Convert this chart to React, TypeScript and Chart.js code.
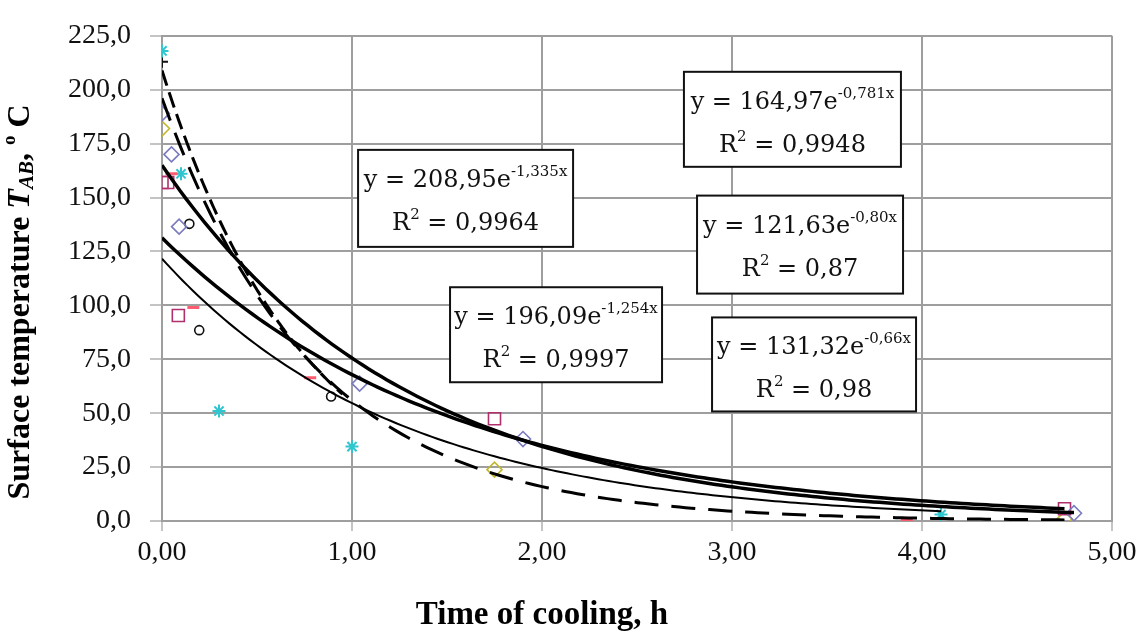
import { useEffect, useRef } from "react";
import { Chart, registerables } from "chart.js";

Chart.register(...registerables);

// ---------- data ----------
const xTickValues = [0, 1, 2, 3, 4, 5];
const yTickValues = [0, 25, 50, 75, 100, 125, 150, 175, 200, 225];

const diamondX = [0, 0.05, 0.09, 1.04, 1.9, 4.8];
const diamondY = [189, 170, 136.5, 63.7, 38, 3.6];
const squareX = [0, 0.03, 0.086, 1.75, 4.75];
const squareY = [157, 157, 95.3, 47.4, 5.7];
const dashX = [0.05, 0.165, 0.78, 3.92];
const dashY = [161, 99, 66.4, 0.5];
const yellowX = [0, 1.75, 4.75];
const yellowY = [182, 23.8, 1];
const cyanX = [0, 0.1, 0.3, 1.0, 4.1];
const cyanY = [218, 161, 51, 34.5, 3];
const circleX = [0.144, 0.196, 0.89];
const circleY = [137.8, 88.5, 57.7];
const plusX = [0];
const plusY = [213];

// trend lines y = a * e^(b x), as printed in the boxes
const fitA = [208.95, 164.97, 121.63, 196.09, 131.32];
const fitB = [-1.335, -0.781, -0.8, -1.254, -0.66];
const fitAText = ["208,95", "164,97", "121,63", "196,09", "131,32"];
const fitBText = ["-1,335", "-0,781", "-0,80", "-1,254", "-0,66"];
const fitR2 = ["0,9964", "0,9948", "0,87", "0,9997", "0,98"];
const fitXEnd = [0.95, 4.8, 4.1, 4.75, 4.75];

const xTitle = "Time of cooling, h";

// ---------- styles / layout ----------
const fitStyles = [
  { width: 3, dash: [16, 7] },
  { width: 3.5, dash: [] as number[] },
  { width: 2, dash: [] as number[] },
  { width: 3, dash: [24, 13] },
  { width: 3.5, dash: [] as number[] },
];
// box top-left in data units, size in px
const boxPos = [
  { x: 1.032, y: 172.1, w: 215, h: 97 },
  { x: 2.747, y: 208.3, w: 217, h: 95 },
  { x: 2.816, y: 150.9, w: 206, h: 98 },
  { x: 1.516, y: 108.4, w: 212, h: 95 },
  { x: 2.895, y: 94.4, w: 204, h: 94 },
];

const GRID = "#9e9e9e";
const SERIF = '"Liberation Serif", "Times New Roman", serif';
const BOXFONT = '"DejaVu Serif", serif';

const pts = (xs: number[], ys: number[]) => xs.map((x, i) => ({ x, y: ys[i] }));
const fmt = (v: number, d: number) => Number(v).toFixed(d).replace(".", ",");

const boxesPlugin = {
  id: "eqBoxes",
  afterDatasetsDraw(chart: any) {
    const { ctx } = chart;
    const xs = chart.scales.x;
    const ys = chart.scales.y;
    ctx.save();
    boxPos.forEach((b, i) => {
      const px = xs.getPixelForValue(b.x);
      const py = ys.getPixelForValue(b.y);
      ctx.fillStyle = "#fff";
      ctx.fillRect(px, py, b.w, b.h);
      ctx.strokeStyle = "#111";
      ctx.lineWidth = 2;
      ctx.setLineDash([]);
      ctx.strokeRect(px, py, b.w, b.h);
      ctx.fillStyle = "#111";
      ctx.textBaseline = "alphabetic";
      ctx.textAlign = "left";
      // line 1
      const main = `y = ${fitAText[i]}e`;
      const sup = `${fitBText[i]}x`;
      ctx.font = `24px ${BOXFONT}`;
      const w1 = ctx.measureText(main).width;
      ctx.font = `15px ${BOXFONT}`;
      const w2 = ctx.measureText(sup).width;
      let sx = px + b.w / 2 - (w1 + w2) / 2;
      const base1 = py + 37;
      ctx.font = `24px ${BOXFONT}`;
      ctx.fillText(main, sx, base1);
      ctx.font = `15px ${BOXFONT}`;
      ctx.fillText(sup, sx + w1, base1 - 11);
      // line 2
      const r = "R";
      const two = "2";
      const rest = ` = ${fitR2[i]}`;
      ctx.font = `24px ${BOXFONT}`;
      const r1 = ctx.measureText(r).width;
      const r3 = ctx.measureText(rest).width;
      ctx.font = `15px ${BOXFONT}`;
      const r2 = ctx.measureText(two).width;
      sx = px + b.w / 2 - (r1 + r2 + r3) / 2;
      const base2 = py + 80;
      ctx.font = `24px ${BOXFONT}`;
      ctx.fillText(r, sx, base2);
      ctx.font = `15px ${BOXFONT}`;
      ctx.fillText(two, sx + r1, base2 - 11);
      ctx.font = `24px ${BOXFONT}`;
      ctx.fillText(rest, sx + r1 + r2, base2);
    });
    ctx.restore();
  },
};

const titlesPlugin = {
  id: "axisTitles",
  afterDraw(chart: any) {
    const { ctx } = chart;
    ctx.save();
    ctx.fillStyle = "#000";
    ctx.textBaseline = "middle";
    ctx.textAlign = "center";
    ctx.font = `bold 33px ${SERIF}`;
    ctx.fillText(xTitle, 542, 615);

    const segs = [
      { t: "Surface temperature ", f: `bold 32px ${SERIF}`, dy: 0 },
      { t: "T", f: `italic bold 32px ${SERIF}`, dy: 0 },
      { t: "AB", f: `italic bold 21px ${SERIF}`, dy: 7 },
      { t: ", ", f: `bold 32px ${SERIF}`, dy: 0 },
      { t: "o", f: `bold 19px ${SERIF}`, dy: -11 },
      { t: " C", f: `bold 32px ${SERIF}`, dy: 0 },
    ];
    let total = 0;
    const widths = segs.map((s) => {
      ctx.font = s.f;
      const w = ctx.measureText(s.t).width;
      total += w;
      return w;
    });
    ctx.translate(21, 302);
    ctx.rotate(-Math.PI / 2);
    ctx.textAlign = "left";
    let x = -total / 2;
    segs.forEach((s, i) => {
      ctx.font = s.f;
      ctx.fillText(s.t, x, s.dy);
      x += widths[i];
    });
    ctx.restore();
  },
};

export default function App() {
  const ref = useRef<HTMLCanvasElement>(null);

  useEffect(() => {
    document.body.style.margin = "0";
    const canvas = ref.current;
    if (!canvas) return;

    const fitData = fitA.map((a, i) => {
      const n = 150;
      const arr: { x: number; y: number }[] = [];
      for (let k = 0; k <= n; k++) {
        const x = (fitXEnd[i] * k) / n;
        arr.push({ x, y: a * Math.exp(fitB[i] * x) });
      }
      return arr;
    });

    const fitSets = fitData.map((d, i) => ({
      type: "line" as const,
      data: d,
      showLine: true,
      borderColor: "#000",
      borderWidth: fitStyles[i].width,
      borderDash: fitStyles[i].dash,
      pointRadius: 0,
      fill: false,
      tension: 0,
    }));

    const marker = (data: any, style: string, color: string, r: number, bw = 1.6) => ({
      type: "scatter" as const,
      data,
      pointStyle: style,
      pointRadius: r,
      pointBorderColor: color,
      pointBackgroundColor: "rgba(255,255,255,0)",
      pointBorderWidth: bw,
      borderColor: color,
      backgroundColor: "rgba(255,255,255,0)",
      showLine: false,
    });

    const chart = new Chart(canvas, {
      type: "scatter",
      data: {
        datasets: [
          ...fitSets,
          marker(pts(diamondX, diamondY), "rectRot", "#7b7bc0", 7.5),
          marker(pts(squareX, squareY), "rect", "#b0306e", 8.5),
          marker(pts(dashX, dashY), "line", "#ff5c70", 6, 3),
          marker(pts(yellowX, yellowY), "rectRot", "#c2b830", 7.5),
          marker(pts(cyanX, cyanY), "star", "#30c6d0", 6.5, 2),
          marker(pts(circleX, circleY), "circle", "#111", 4.5),
          marker(pts(plusX, plusY), "cross", "#111", 6, 2),
        ] as any,
      },
      options: {
        animation: false,
        responsive: true,
        maintainAspectRatio: false,
        layout: { padding: { left: 0, right: 33, top: 23, bottom: 0 } },
        plugins: { legend: { display: false }, tooltip: { enabled: false } },
        scales: {
          x: {
            type: "linear",
            min: xTickValues[0],
            max: xTickValues[xTickValues.length - 1],
            afterBuildTicks: (s: any) => {
              s.ticks = xTickValues.map((v) => ({ value: v }));
            },
            ticks: {
              callback: (v: any) => fmt(v, 2),
              font: { family: SERIF, size: 28 },
              color: "#111",
              padding: 5,
              maxRotation: 0,
              autoSkip: false,
            },
            grid: { color: GRID, lineWidth: 2, tickLength: 10, tickColor: "#c4c4c4" },
            border: { color: GRID, width: 2 },
            afterFit: (s: any) => {
              s.height = 123;
            },
          },
          y: {
            type: "linear",
            min: yTickValues[0],
            max: yTickValues[yTickValues.length - 1],
            afterBuildTicks: (s: any) => {
              s.ticks = yTickValues.map((v) => ({ value: v }));
            },
            ticks: {
              callback: (v: any) => fmt(v, 1),
              font: { family: SERIF, size: 28 },
              color: "#111",
              padding: 19,
              autoSkip: false,
            },
            grid: { color: GRID, lineWidth: 2, tickLength: 12, tickColor: "#c4c4c4" },
            border: { color: GRID, width: 2 },
            afterFit: (s: any) => {
              s.width = 162;
            },
          },
        },
      },
      plugins: [boxesPlugin, titlesPlugin],
    } as any);

    return () => chart.destroy();
  }, []);

  return (
    <div style={{ width: 1145, height: 644, position: "relative" }}>
      <canvas ref={ref} />
    </div>
  );
}
